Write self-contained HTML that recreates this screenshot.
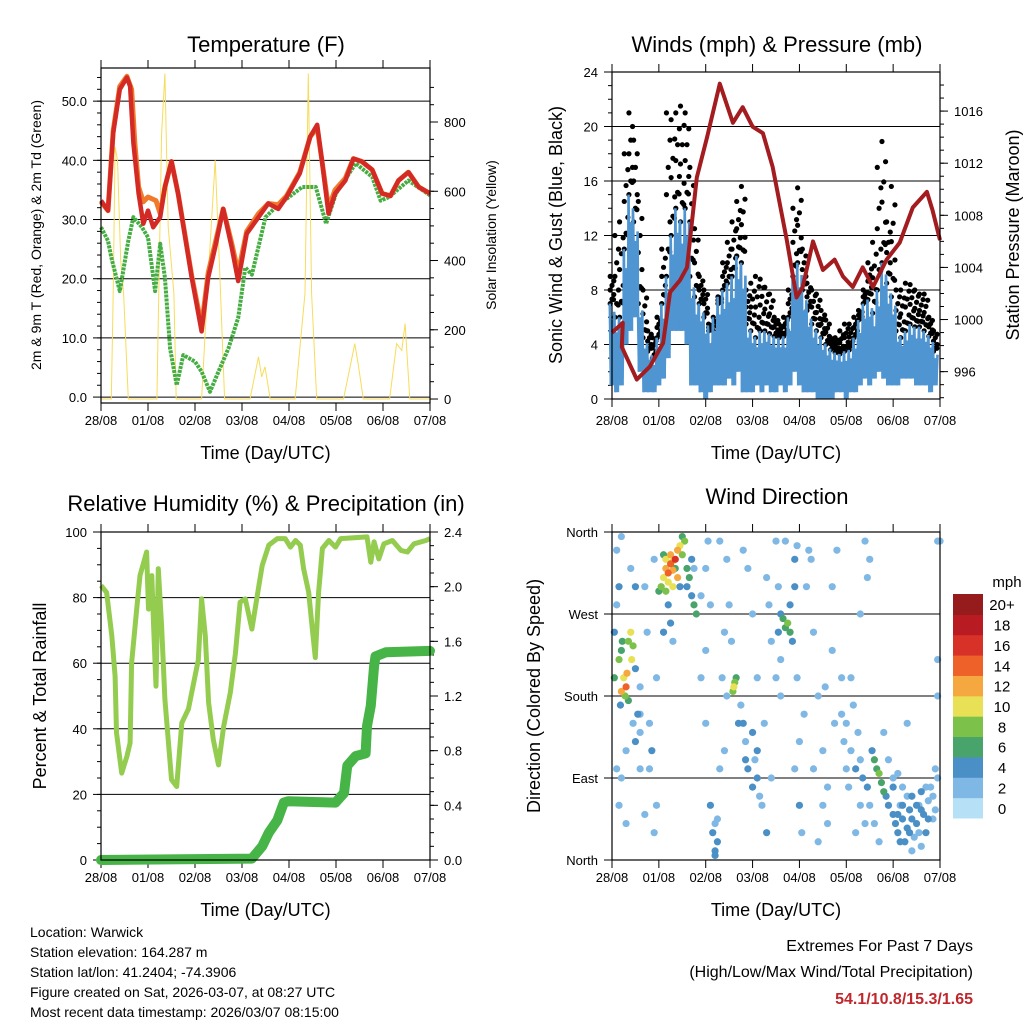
<!DOCTYPE html>
<html><head><meta charset="utf-8"><style>
body{margin:0;background:#fff}
svg{display:block;font-family:"Liberation Sans",sans-serif}
</style></head><body>
<svg id="s" width="1024" height="1024" viewBox="0 0 1024 1024"></svg>
<script>
const dayLabels=['28/08','01/08','02/08','03/08','04/08','05/08','06/08','07/08'];
// Temperature (F): [day, value]
const tempRed=[[0,33.2],[0.15,31.5],[0.26,44.6],[0.4,52],[0.55,54],[0.62,52.5],[0.69,42.9],[0.8,34.4],[0.9,29.3],[1.0,31.5],[1.11,28.7],[1.26,30.4],[1.36,35.5],[1.5,39.8],[1.64,34.4],[1.93,20.2],[2.14,11.1],[2.28,20.2],[2.43,25.3],[2.6,31.8],[2.78,25.3],[2.92,19.6],[3.1,27.6],[3.35,30.4],[3.56,32.7],[3.77,31.8],[3.95,33.8],[4.23,37.8],[4.45,44],[4.6,46],[4.7,40],[4.84,31],[4.98,34.4],[5.2,36.6],[5.37,40.3],[5.55,39.8],[5.77,38.4],[5.98,34.4],[6.16,34],[6.33,36.6],[6.54,38],[6.76,35.5],[7,34.4]];
const tempOrange=[[0,33],[0.15,31.5],[0.26,45],[0.4,52.5],[0.55,54.2],[0.65,52],[0.72,43],[0.8,35.5],[0.9,33],[1.0,33.8],[1.17,33.2],[1.26,31],[1.36,35.5],[1.5,39.8],[1.64,34.4],[1.93,20.5],[2.14,12],[2.28,21],[2.43,26],[2.6,31.8],[2.78,26],[2.92,21],[3.1,28],[3.35,31],[3.56,32.7],[3.77,32.5],[3.95,34],[4.23,38],[4.45,44],[4.6,45.5],[4.7,40],[4.84,32],[4.98,35],[5.2,37],[5.37,40.3],[5.55,39.8],[5.77,38.4],[5.98,34.4],[6.16,34],[6.33,36.6],[6.54,38],[6.76,35.5],[7,34.4]];
const dewGreen=[[0,28.7],[0.15,26.4],[0.22,23.6],[0.4,17.9],[0.58,26.4],[0.69,30.4],[0.87,28.7],[1.0,27],[1.15,17.9],[1.26,25.9],[1.36,20.2],[1.47,8.2],[1.61,2],[1.75,7.1],[2.0,6],[2.14,4.3],[2.32,0.9],[2.5,4.3],[2.71,8.2],[2.92,13.4],[3.07,21.9],[3.21,20.7],[3.5,30.4],[3.72,32.1],[4.0,33.8],[4.28,35.5],[4.57,35.5],[4.79,29.3],[5.0,34.4],[5.28,37.8],[5.42,39.5],[5.77,37.2],[5.95,33.2],[6.13,33.8],[6.54,36.6],[7,34.1]];
const solar=[[0,0],[0.22,0],[0.26,305],[0.3,728],[0.35,690],[0.42,400],[0.48,305],[0.58,0],[1.19,0],[1.29,767],[1.36,940],[1.43,497],[1.55,305],[1.6,0],[2.14,0],[2.28,353],[2.43,690],[2.53,353],[2.63,0],[3.17,0],[3.35,122],[3.42,64],[3.49,93],[3.6,0],[4.13,0],[4.24,160],[4.34,305],[4.41,940],[4.48,305],[4.59,0],[5.16,0],[5.33,113],[5.4,160],[5.48,93],[5.58,0],[6.14,0],[6.29,160],[6.4,140],[6.47,218],[6.57,0],[7,0]];
// Winds (mph), one value per 0.1 day
const windHi=[7,6,6,11,15,13,7,4.5,3.5,3,4.5,7,9,12,14,13,14,9,7.5,7,6,5,6,7.5,8,8.5,9,10.5,10,5.5,5,4.5,5,5,4.8,4.6,4.5,4.6,6,9,10,8,6.5,5.5,5,4.5,4,3.6,3.4,3.3,3.5,3.6,4.5,5.8,7,7.3,6.3,8,10,8.5,7.5,5,4.5,5,5.5,5.3,5.3,5,4.6,3.5];
const windLo=[1,0.5,1,4,5,6,2,0.5,0.5,0.5,1,1.5,3,5,5,5,4,1,1,0.5,0,0.5,1,1,1,1.5,1,2,0.5,0.5,0.5,1,0.5,1,0.5,0.5,1,0.5,1,2,1,0.5,0.5,0.5,0,0,0,0,0.5,0.5,0,0.5,0.5,1,1.5,1,1.5,2,1.5,1,1,1,1.5,1.5,1.5,1,1,1,0.5,1];
const gust=[9,12,13,18,21,19,14.5,8,5,4.5,6,11,21,20.5,21,21.5,21,17,12.5,9,8,5.5,4,7,10,11.5,13,14.5,15.6,8,8.5,9,8.8,8.2,7.7,6,5.5,6,8,14,15.5,11,8.5,8,7.7,6.5,5.8,4.5,4.5,5,5.5,5.5,6,6.5,8,10,11.5,17,18.9,13,15.6,8,8,8.5,8.4,8,7.7,7.7,6,5];
const pressure=[[0,999],[0.23,999.75],[0.21,997.9],[0.53,995.4],[0.81,996.4],[1.09,998.2],[1.24,1002.1],[1.45,1003],[1.6,1004],[1.81,1010.9],[2.03,1014],[2.3,1018.1],[2.58,1015.1],[2.79,1016.3],[3.0,1014.8],[3.22,1014.3],[3.43,1011.7],[3.73,1006.1],[3.94,1001.7],[4.07,1002.5],[4.29,1006],[4.5,1003.8],[4.75,1004.6],[4.93,1003.3],[5.14,1002.5],[5.35,1004],[5.57,1002.5],[5.86,1004.6],[6.14,1005.9],[6.42,1008.6],[6.72,1009.8],[6.84,1008.4],[7,1006.1]];
// RH (%) and precipitation (in)
const rh=[[0,83.7],[0.12,81.6],[0.23,68.4],[0.3,56],[0.33,38.8],[0.44,26.5],[0.55,31.6],[0.62,35.7],[0.65,60],[0.76,76.5],[0.83,86.7],[0.97,93.9],[1.01,76.5],[1.08,86.7],[1.12,71.4],[1.17,53],[1.22,88.8],[1.29,71.4],[1.36,49],[1.5,24.5],[1.61,22.4],[1.72,41.8],[1.86,46],[2.0,56],[2.07,61],[2.14,79.6],[2.22,68.4],[2.29,48],[2.39,36.7],[2.5,29],[2.61,40.8],[2.75,51],[2.86,63],[2.96,78.6],[3.07,79.6],[3.21,70.4],[3.36,83.7],[3.43,89.8],[3.57,96],[3.75,98],[3.92,98],[4.03,95.4],[4.14,97.4],[4.24,96],[4.31,88.8],[4.42,81.6],[4.49,71.4],[4.56,61.7],[4.63,81.6],[4.71,95],[4.85,97.4],[4.99,95.4],[5.1,98],[5.34,98.2],[5.66,98.5],[5.74,90.8],[5.81,97],[5.91,91.8],[6.02,96.4],[6.2,97.4],[6.38,94.4],[6.52,93.9],[6.66,96.4],[6.91,97.4],[7,98]];
const precip=[[0,0],[3.21,0.01],[3.43,0.1],[3.57,0.2],[3.75,0.29],[3.89,0.42],[3.99,0.43],[4.99,0.42],[5.17,0.49],[5.24,0.69],[5.42,0.76],[5.63,0.78],[5.66,0.98],[5.74,1.13],[5.81,1.42],[5.84,1.49],[6.06,1.52],[7,1.53]];
// Wind direction: [day, degrees, speed mph]
const dirPts=[[0.05,250,4],[0.1,280,3],[0.15,300,5],[0.2,230,6],[0.25,200,10],[0.3,190,14],[0.32,205,12],[0.28,180,8],[0.35,240,9],[0.4,250,10],[0.42,220,11],[0.45,235,8],[0.5,210,5],[0.55,160,4],[0.6,140,3],[0.1,340,2],[0.2,355,2],[0.3,120,3],[0.15,60,2],[0.5,300,4],[0.4,320,3],[0.6,190,3],[0.05,200,6],[0.2,185,12],[0.35,175,7],[0.7,300,3],[0.75,250,2],[0.8,150,3],[0.85,120,4],[0.9,330,3],[0.95,200,2],[0.8,100,2],[0.7,50,3],[1.0,295,6],[1.05,300,8],[1.1,310,10],[1.15,320,13],[1.2,315,14],[1.25,325,15],[1.3,318,12],[1.35,330,16],[1.4,340,13],[1.45,345,11],[1.5,335,9],[1.55,350,8],[1.2,305,11],[1.3,300,10],[1.4,310,12],[1.15,295,9],[1.6,320,6],[1.7,290,5],[1.75,280,7],[1.8,270,6],[1.1,335,7],[1.5,355,6],[1.9,200,3],[2.0,150,2],[2.1,60,4],[2.15,30,5],[2.2,10,4],[2.25,45,3],[2.3,100,2],[2.0,320,2],[2.4,250,3],[2.45,180,2],[2.1,280,2],[2.3,350,3],[2.6,190,10],[2.62,195,9],[2.58,185,8],[2.65,200,7],[2.7,150,4],[2.8,340,3],[2.9,100,4],[3.0,80,5],[3.1,120,4],[3.2,60,3],[3.3,30,4],[3.1,200,3],[3.0,270,2],[2.9,320,2],[3.25,150,3],[3.4,90,2],[3.6,270,5],[3.65,265,6],[3.7,255,7],[3.75,260,8],[3.8,250,6],[3.85,240,5],[3.9,330,4],[3.95,345,3],[3.7,350,3],[3.8,280,4],[3.6,180,3],[3.9,100,3],[4.0,60,4],[4.05,30,3],[3.5,200,2],[4.2,340,2],[4.3,250,2],[4.4,180,2],[4.5,120,3],[4.6,80,2],[4.7,300,2],[4.8,340,2],[4.9,200,2],[4.6,40,2],[4.3,100,2],[4.4,20,3],[5.0,150,3],[5.1,120,3],[5.2,100,4],[5.3,60,3],[5.4,40,3],[5.1,200,2],[5.3,270,2],[5.5,330,3],[5.45,310,2],[5.4,350,3],[5.2,30,2],[5.6,110,6],[5.65,100,7],[5.7,95,8],[5.75,85,7],[5.8,75,6],[5.85,70,5],[5.55,120,4],[5.9,60,4],[6.0,50,4],[6.05,40,5],[6.1,30,4],[6.15,60,3],[6.2,45,5],[6.25,20,4],[6.3,35,4],[6.35,55,5],[6.4,70,4],[6.45,25,3],[6.5,40,4],[6.55,60,3],[6.6,75,4],[6.65,50,5],[6.7,30,4],[6.75,65,3],[6.8,80,3],[6.85,45,2],[6.9,55,3],[6.0,90,3],[6.2,80,2],[6.4,10,3],[6.6,15,2],[6.95,350,2],[6.3,150,2],
[0.1,100,3],[0.2,90,2],[0.3,40,2],[0.45,150,3],[0.5,130,4],[0.6,100,2],[0.6,160,3],[0.9,30,2],[0.95,60,3],[1.1,250,4],[1.2,280,5],[1.25,260,4],[1.3,240,3],[1.6,300,5],[1.65,310,6],[1.7,330,4],[1.75,320,3],[1.9,290,2],[2.0,230,3],[2.05,350,3],[2.2,5,4],[2.25,20,5],[2.2,40,3],[2.35,200,2],[2.4,120,3],[2.5,280,2],[2.45,330,3],[2.55,240,2],[2.75,170,3],[2.8,150,4],[2.85,130,3],[2.85,110,4],[3.0,140,4],[3.05,110,3],[3.1,90,4],[3.15,70,3],[3.3,310,3],[3.35,280,2],[3.4,240,2],[3.5,350,2],[3.55,300,3],[3.55,250,4],[3.6,220,3],[3.9,300,4],[3.95,200,3],[4.0,130,3],[4.1,160,2],[4.15,300,2],[4.25,330,2],[4.5,60,2],[4.55,190,3],[4.7,230,2],[4.75,150,2],[4.9,160,3],[4.95,130,3],[5.0,100,3],[5.05,80,2],[5.15,170,2],[5.25,140,3],[5.3,110,3],[5.35,90,4],[5.45,80,4],[5.5,60,3],[5.6,40,2],[5.7,20,3],[5.8,140,3],[5.9,110,3],[6.0,80,4],[6.1,95,3],[6.1,50,5],[6.15,20,4],[6.2,60,4],[6.3,70,3],[6.35,30,4],[6.4,45,5],[6.5,60,4],[6.55,30,3],[6.6,55,5],[6.7,80,3],[6.75,45,4],[6.85,70,3],[6.9,100,2],[6.95,180,3],[6.95,220,2],[7.0,350,2],[6.95,90,3],[1.35,320,6],[1.45,300,4],[1.15,330,11],[1.25,335,12],[1.3,328,10],[0.15,220,9],[0.22,240,7],[0.18,170,5]];
const cbLabels=['0','2','4','6','8','10','12','14','16','18','20+'];
const cbColors=['#b5e0f6','#7fb8e4','#4a8fc6','#48a46a','#7cc24a','#e8e055','#f6a840','#ee6128','#d83228','#b81c22','#951b1c'];

const S=document.getElementById('s');const NS='http://www.w3.org/2000/svg';
function mk(tag,at,parent){const e=document.createElementNS(NS,tag);for(const k in at)e.setAttribute(k,at[k]);(parent||S).appendChild(e);return e;}
function txt(x,y,s,size,anchor,name,extra){const e=mk('text',Object.assign({x:x,y:y,'font-size':size,'text-anchor':anchor||'middle',fill:'#000'},extra||{}));e.textContent=s;return e;}
function lin(d0,d1,r0,r1){return v=>r0+(v-d0)/(d1-d0)*(r1-r0);}
function path(pts,fx,fy){return pts.map((p,i)=>(i?'L':'M')+fx(p[0]).toFixed(1)+','+fy(p[1]).toFixed(1)).join('');}
function frame(P,name){const g=mk('g',{});return g;}
function xaxis(P,g){
  const fx=lin(0,7,P.x0,P.x1);const lb=P.lb||P.y1;
  dayLabels.forEach((l,i)=>{const x=fx(i);
    const t=mk('line',{x1:x,x2:x,y1:P.y1,y2:P.y1+8,stroke:'#000','stroke-width':1},g);
    mk('line',{x1:x,x2:x,y1:P.y0,y2:P.y0-8,stroke:'#000','stroke-width':1},g);
    txt(x,lb+22,l,13,'middle','x-tick-label');});
  txt((P.x0+P.x1)/2,lb+56,'Time (Day/UTC)',18,'middle','x-axis-title');
  return fx;
}
function border(P,g){const r=mk('rect',{x:P.x0,y:P.y0,width:P.x1-P.x0,height:P.y1-P.y0,fill:'none',stroke:'#000','stroke-width':1.2},g);}
function yticks(P,g,fy,vals,labels,side,grid,minor){
  vals.forEach((v,i)=>{const y=fy(v);
    if(grid){const l=mk('line',{x1:P.x0,x2:P.x1,y1:y,y2:y,stroke:'#000','stroke-width':1},g);}
    if(side==='l'){mk('line',{x1:P.x0-8,x2:P.x0,y1:y,y2:y,stroke:'#000'},g);txt(P.x0-14,y+5,labels[i],13,'end','y-tick-label');}
    else{mk('line',{x1:P.x1,x2:P.x1+8,y1:y,y2:y,stroke:'#000'},g);txt(P.x1+14,y+5,labels[i],13,'start','y2-tick-label');}
  });
  (minor||[]).forEach(v=>{const y=fy(v);if(side==='l')mk('line',{x1:P.x0-4,x2:P.x0,y1:y,y2:y,stroke:'#000'},g);else mk('line',{x1:P.x1,x2:P.x1+4,y1:y,y2:y,stroke:'#000'},g);});
}
function rng(a,b,s){const r=[];for(let v=a;v<=b+1e-9;v+=s)r.push(+v.toFixed(3));return r;}

// ---------- Temperature ----------
(function(){
  const P={x0:101,x1:430,y0:68,y1:403};const g=frame(P,'temperature-panel');
  const fx=xaxis(P,g);const fy=lin(-1,55.6,P.y1,P.y0);const fy2=lin(-11.5,956,P.y1,P.y0);
  txt(266,52,'Temperature (F)',22,'middle','temperature-title');
  yticks(P,g,fy,rng(0,50,10),rng(0,50,10).map(v=>v.toFixed(1)),'l',true,rng(2,54,2));
  yticks(P,g,fy2,rng(0,800,200),['0','200','400','600','800'],'r',false,rng(50,900,50));
  txt(0,0,'2m & 9m T (Red, Orange) & 2m Td (Green)',14,'middle','y-axis-title',{transform:'translate(41,235) rotate(-90)'});
  txt(0,0,'Solar Insolation (Yellow)',14,'middle','y2-axis-title',{transform:'translate(496,235) rotate(-90)'});
  let e=mk('path',{d:path(solar,fx,fy2),fill:'none',stroke:'#f7dc5a','stroke-width':1},g);
  e=mk('path',{d:path(dewGreen,fx,fy),fill:'none',stroke:'#46ad42','stroke-width':4,'stroke-dasharray':'3 1','stroke-linejoin':'round'},g);
  e=mk('path',{d:path(tempOrange,fx,fy),fill:'none',stroke:'#f07a2a','stroke-width':5,'stroke-linejoin':'round'},g);
  e=mk('path',{d:path(tempRed,fx,fy),fill:'none',stroke:'#d42a26','stroke-width':4.5,'stroke-linejoin':'round'},g);
  border(P,g);
})();

// ---------- Winds ----------
(function(){
  const P={x0:612,x1:940,y0:72,y1:399,lb:403};const g=frame(P,'winds-panel');
  const fx=xaxis(P,g);const fy=lin(0,24,P.y1,P.y0);const fy2=lin(993.9,1019,P.y1,P.y0);
  txt(777,52,'Winds (mph) & Pressure (mb)',22,'middle','winds-title');
  yticks(P,g,fy,rng(0,24,4),rng(0,24,4).map(String),'l',true,rng(1,23,1));
  yticks(P,g,fy2,[996,1000,1004,1008,1012,1016],['996','1000','1004','1008','1012','1016'],'r',false,rng(994,1018,1));
  txt(0,0,'Sonic Wind & Gust (Blue, Black)',18,'middle','y-axis-title',{transform:'translate(562,235) rotate(-90)'});
  txt(0,0,'Station Pressure (Maroon)',18,'middle','y2-axis-title',{transform:'translate(1019,235) rotate(-90)'});
  const dots=mk('g',{},g);
  gust.forEach((v,i)=>{const x=fx(i*0.1);const h=windHi[i];
    for(let k=0;k<=6;k++){const u=h+(v-h)*k/6;mk('circle',{cx:x+((k%3)-1)*1.8,cy:fy(u),r:2.6,fill:'#000'},dots);}
    mk('circle',{cx:x+1.5,cy:fy(h+(v-h)*0.15),r:2.6,fill:'#000'},dots);});
  const bl=mk('g',{},g);
  let zz='';
  windHi.forEach((v,i)=>{const x=fx(i*0.1);const lo=windLo[i];
    mk('line',{x1:x,x2:x,y1:fy(lo),y2:fy(lo+(v-lo)*0.55),stroke:'#4f95d2','stroke-width':5},bl);
    zz+=(i?'L':'M')+(x-2.2)+','+fy(v)+'L'+(x-1.1)+','+fy(lo)+'L'+x+','+fy(lo+(v-lo)*0.8)+'L'+(x+1.1)+','+fy(lo+(v-lo)*0.1)+'L'+(x+2.2)+','+fy(lo+(v-lo)*0.9);});
  mk('path',{d:zz,fill:'none',stroke:'#4f95d2','stroke-width':2.6},bl);
  const e=mk('path',{d:path(pressure,fx,fy2),fill:'none',stroke:'#a31c1f','stroke-width':4,'stroke-linejoin':'round'},g);
  border(P,g);
})();

// ---------- RH & precip ----------
(function(){
  const P={x0:101,x1:430,y0:532,y1:860};const g=frame(P,'humidity-panel');
  const fx=xaxis(P,g);const fy=lin(0,100,P.y1,P.y0);const fy2=lin(0,2.4,P.y1,P.y0);
  txt(266,511,'Relative Humidity (%) & Precipitation (in)',22,'middle','humidity-title');
  yticks(P,g,fy,rng(0,100,20),rng(0,100,20).map(String),'l',true,rng(5,95,5));
  yticks(P,g,fy2,rng(0,2.4,0.4),rng(0,2.4,0.4).map(v=>v.toFixed(1)),'r',false,rng(0.1,2.3,0.1));
  txt(0,0,'Percent & Total Rainfall',18,'middle','y-axis-title',{transform:'translate(46,696) rotate(-90)'});
  let e=mk('path',{d:path(rh,fx,fy),fill:'none',stroke:'#94cc50','stroke-width':5,'stroke-linejoin':'round'},g);
  e=mk('path',{d:path(precip,fx,fy2),fill:'none',stroke:'#46b447','stroke-width':10,'stroke-linejoin':'round','stroke-linecap':'round'},g);
  border(P,g);
})();

// ---------- Wind direction ----------
(function(){
  const P={x0:612,x1:940,y0:532,y1:860};const g=frame(P,'wind-direction-panel');
  const fx=xaxis(P,g);const fy=lin(0,360,P.y1,P.y0);
  txt(777,504,'Wind Direction',22,'middle','wind-direction-title');
  yticks(P,g,fy,[0,90,180,270,360],['North','East','South','West','North'],'l',false,[]);
  [90,180,270].forEach(v=>{const l=mk('line',{x1:P.x0,x2:P.x1,y1:fy(v),y2:fy(v),stroke:'#000'},g);});
  txt(0,0,'Direction (Colored By Speed)',18,'middle','y-axis-title',{transform:'translate(540,696) rotate(-90)'});
  const pg=mk('g',{},g);
  dirPts.slice().sort((a,b)=>a[2]-b[2]).forEach(p=>{const c=cbColors[Math.min(10,Math.floor(p[2]/2))];mk('circle',{cx:fx(p[0]),cy:fy(p[1]),r:3.6,fill:c},pg);});
  border(P,g);
  const cb=mk('g',{});
  const h=(818-594)/11;
  cbColors.forEach((c,i)=>{const y=818-(i+1)*h;mk('rect',{x:953,y:y,width:30,height:h+0.5,fill:c},cb);txt(1002,y+h/2+6,cbLabels[i],15,'middle','colorbar-label');});
  txt(1007,587,'mph',15,'middle','colorbar-title');
})();

// ---------- Footer ----------
['Location: Warwick','Station elevation: 164.287 m','Station lat/lon: 41.2404; -74.3906','Figure created on Sat, 2026-03-07, at 08:27 UTC','Most recent data timestamp: 2026/03/07 08:15:00'].forEach((s,i)=>txt(30,937+i*20,s,14,'start','station-info-line'));
txt(973,951,'Extremes For Past 7 Days',16,'end','extremes-title');
txt(973,977,'(High/Low/Max Wind/Total Precipitation)',16,'end','extremes-subtitle');
txt(973,1004,'54.1/10.8/15.3/1.65',16,'end','extremes-values',{fill:'#c0272d','font-weight':'bold'});
</script>
</body></html>
